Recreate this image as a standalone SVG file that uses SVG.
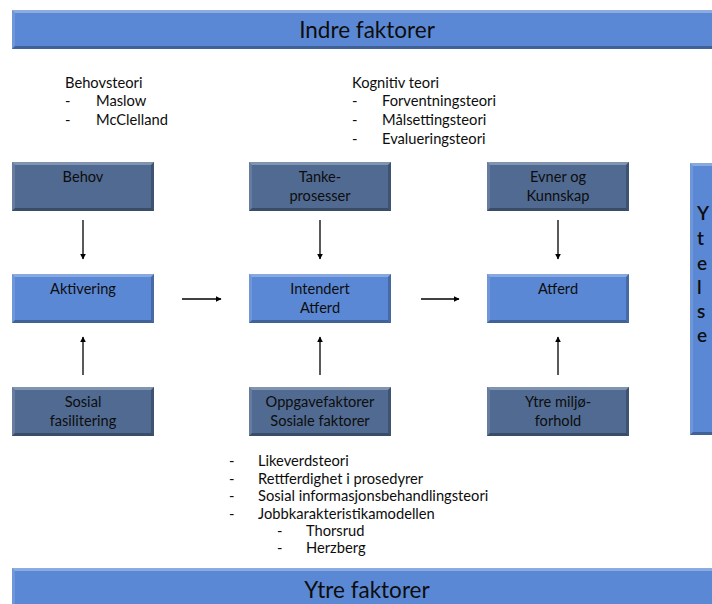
<svg xmlns="http://www.w3.org/2000/svg" width="712" height="604" viewBox="0 0 712 604">
  <style>
    .txt { font-family: Lato, "Open Sans", "Liberation Sans", sans-serif; fill: #0d0d0d; }
    .box-t { font-size: 14.6px; text-anchor: middle; }
    .note { font-size: 14.7px; }
    .bar-t { font-size: 22.5px; text-anchor: middle; }
    .dark { fill: #506a91; }
    .light { fill: #5b88d4; }
    .conn { stroke: #000; stroke-width: 1.3; fill: none; marker-end: url(#head); }
  </style>
  <defs>
    <marker id="head" viewBox="0 0 10 10" refX="9" refY="5" markerWidth="6" markerHeight="6" markerUnits="userSpaceOnUse" orient="auto">
      <path d="M0,0 L10,5 L0,10 z" fill="#000"/>
    </marker>
    <!-- bevel edges for a 142x49 box -->
    <g id="bevel">
      <polygon points="0,0 142,0 139,3 3,3" fill="#fff" opacity="0.28"/>
      <polygon points="0,0 3,3 3,46 0,49" fill="#fff" opacity="0.12"/>
      <polygon points="142,0 142,49 139,46 139,3" fill="#000" opacity="0.22"/>
      <polygon points="0,49 142,49 139,46 3,46" fill="#000" opacity="0.28"/>
    </g>
  </defs>

  <!-- header bar -->
  <g id="indre">
    <rect x="12" y="10" width="710" height="39" fill="#5b88d4"/>
    <polygon points="12,10 712,10 712,13 15,13" fill="#fff" opacity="0.3"/>
    <polygon points="12,10 15,13 15,46 12,49" fill="#fff" opacity="0.12"/>
    <polygon points="12,49 712,49 712,46 15,46" fill="#000" opacity="0.28"/>
    <text class="txt bar-t" x="367" y="38">Indre faktorer</text>
  </g>

  <!-- theory notes -->
  <g id="behovsteori" class="txt note">
    <text x="65" y="88">Behovsteori</text>
    <text x="65" y="106">-</text><text x="96" y="106">Maslow</text>
    <text x="65" y="125">-</text><text x="96" y="125">McClelland</text>
  </g>
  <g id="kognitiv" class="txt note">
    <text x="352" y="88">Kognitiv teori</text>
    <text x="352" y="106">-</text><text x="382" y="106">Forventningsteori</text>
    <text x="352" y="125">-</text><text x="382" y="125">Målsettingsteori</text>
    <text x="352" y="144">-</text><text x="382" y="144">Evalueringsteori</text>
  </g>

  <!-- column 1 -->
  <g id="behov">
    <rect class="dark" x="12" y="162" width="142" height="49"/>
    <use href="#bevel" x="12" y="162"/>
    <text class="txt box-t" x="83" y="182">Behov</text>
  </g>
  <g id="aktivering">
    <rect class="light" x="12" y="274" width="142" height="49"/>
    <use href="#bevel" x="12" y="274"/>
    <text class="txt box-t" x="83" y="294">Aktivering</text>
  </g>
  <g id="sosial-fasilitering">
    <rect class="dark" x="12" y="387" width="142" height="49"/>
    <use href="#bevel" x="12" y="387"/>
    <text class="txt box-t" x="83" y="407">Sosial</text>
    <text class="txt box-t" x="83" y="426">fasilitering</text>
  </g>

  <!-- column 2 -->
  <g id="tankeprosesser">
    <rect class="dark" x="249" y="162" width="142" height="49"/>
    <use href="#bevel" x="249" y="162"/>
    <text class="txt box-t" x="320" y="182">Tanke-</text>
    <text class="txt box-t" x="320" y="201">prosesser</text>
  </g>
  <g id="intendert-atferd">
    <rect class="light" x="249" y="274" width="142" height="49"/>
    <use href="#bevel" x="249" y="274"/>
    <text class="txt box-t" x="320" y="294">Intendert</text>
    <text class="txt box-t" x="320" y="313">Atferd</text>
  </g>
  <g id="oppgavefaktorer">
    <rect class="dark" x="249" y="387" width="142" height="49"/>
    <use href="#bevel" x="249" y="387"/>
    <text class="txt box-t" x="320" y="407">Oppgavefaktorer</text>
    <text class="txt box-t" x="320" y="426">Sosiale faktorer</text>
  </g>

  <!-- column 3 -->
  <g id="evner">
    <rect class="dark" x="487" y="162" width="142" height="49"/>
    <use href="#bevel" x="487" y="162"/>
    <text class="txt box-t" x="558" y="182">Evner og</text>
    <text class="txt box-t" x="558" y="201">Kunnskap</text>
  </g>
  <g id="atferd">
    <rect class="light" x="487" y="274" width="142" height="49"/>
    <use href="#bevel" x="487" y="274"/>
    <text class="txt box-t" x="558" y="294">Atferd</text>
  </g>
  <g id="ytre-miljo">
    <rect class="dark" x="487" y="387" width="142" height="49"/>
    <use href="#bevel" x="487" y="387"/>
    <text class="txt box-t" x="558" y="407">Ytre miljø-</text>
    <text class="txt box-t" x="558" y="426">forhold</text>
  </g>

  <!-- performance column -->
  <g id="ytelse">
    <rect x="690" y="163" width="30" height="272" fill="#5b88d4"/>
    <polygon points="690,163 712,163 712,166 693,166" fill="#fff" opacity="0.28"/>
    <polygon points="690,163 693,166 693,432 690,435" fill="#fff" opacity="0.12"/>
    <polygon points="690,435 712,435 712,432 693,432" fill="#000" opacity="0.28"/>
    <g class="txt" font-size="19" font-weight="600">
      <text x="697" y="220">Y</text>
      <text x="697" y="245">t</text>
      <text x="697" y="270">e</text>
      <text x="697" y="294">l</text>
      <text x="697" y="318">s</text>
      <text x="697" y="342">e</text>
    </g>
  </g>

  <!-- connectors -->
  <g id="connectors">
    <line class="conn" x1="83" y1="220" x2="83" y2="259"/>
    <line class="conn" x1="320" y1="220" x2="320" y2="259"/>
    <line class="conn" x1="558" y1="220" x2="558" y2="259"/>
    <line class="conn" x1="83" y1="375" x2="83" y2="337"/>
    <line class="conn" x1="320" y1="375" x2="320" y2="337"/>
    <line class="conn" x1="558" y1="375" x2="558" y2="337"/>
    <line class="conn" x1="182" y1="299" x2="221" y2="299"/>
    <line class="conn" x1="421" y1="299" x2="459" y2="299"/>
  </g>

  <!-- external theory notes -->
  <g id="ytre-teorier" class="txt note">
    <text x="229" y="466">-</text><text x="258" y="466">Likeverdsteori</text>
    <text x="229" y="484">-</text><text x="258" y="484">Rettferdighet i prosedyrer</text>
    <text x="229" y="501">-</text><text x="258" y="501">Sosial informasjonsbehandlingsteori</text>
    <text x="229" y="519">-</text><text x="258" y="519">Jobbkarakteristikamodellen</text>
    <text x="277" y="536">-</text><text x="306" y="536">Thorsrud</text>
    <text x="277" y="553">-</text><text x="306" y="553">Herzberg</text>
  </g>

  <!-- footer bar -->
  <g id="ytre">
    <rect x="12" y="568" width="710" height="40" fill="#5b88d4"/>
    <polygon points="12,568 712,568 712,571 15,571" fill="#fff" opacity="0.3"/>
    <polygon points="12,568 15,571 15,604 12,604" fill="#fff" opacity="0.12"/>
    <text class="txt bar-t" x="367" y="598">Ytre faktorer</text>
  </g>
</svg>
